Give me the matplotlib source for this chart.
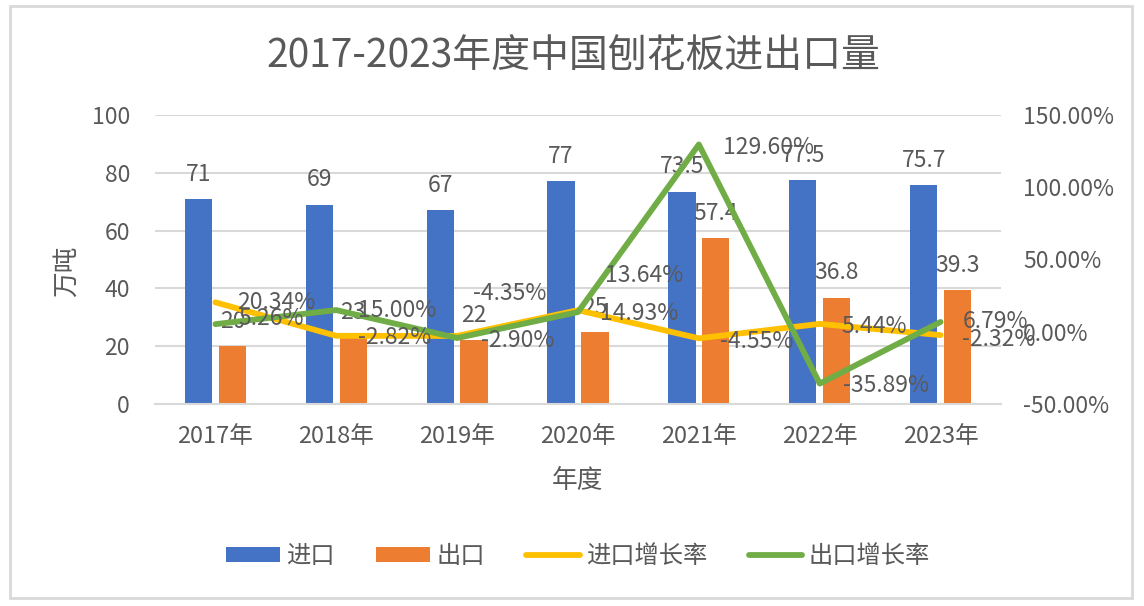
import matplotlib
matplotlib.use("Agg")
import matplotlib.pyplot as plt
from matplotlib.patches import Rectangle
from matplotlib.ticker import FuncFormatter, MultipleLocator

plt.rcParams['font.family'] = ['Noto Sans CJK SC', 'DejaVu Sans']

years = ['2017年', '2018年', '2019年', '2020年', '2021年', '2022年', '2023年']
imports = [71, 69, 67, 77, 73.5, 77.5, 75.7]
exports = [20, 23, 22, 25, 57.4, 36.8, 39.3]
import_growth = [20.34, -2.82, -2.90, 14.93, -4.55, 5.44, -2.32]
export_growth = [5.26, 15.00, -4.35, 13.64, 129.60, -35.89, 6.79]

# label offsets (pixels right, pixels up) relative to each line point
imp_lbl_off = [(22, 0), (22, -2), (24, -5), (22, -3), (21, -3), (22, -3), (21, -4)]
exp_lbl_off = [(23, 6), (22, 0), (16, 45), (27, 37), (24, -3), (23, -2), (22, 0)]

C_BLUE = '#4472C4'
C_ORANGE = '#ED7D31'
C_YELLOW = '#FFC000'
C_GREEN = '#70AD47'
TXT = '#595959'
GRID = '#D9D9D9'

W, H = 1144, 606
PX = 72 / 100  # points per pixel
fig = plt.figure(figsize=(W / 100, H / 100), dpi=100)

ax = fig.add_axes([155 / W, 1 - 404 / H, (1001 - 155) / W, (404 - 115) / H])
ax2 = ax.twinx()

x = list(range(len(years)))
bw = 0.225
off = 0.14
b1 = ax.bar([i - off for i in x], imports, width=bw, color=C_BLUE, label='进口', zorder=2)
b2 = ax.bar([i + off for i in x], exports, width=bw, color=C_ORANGE, label='出口', zorder=2)

FS = 16.5
for i, v in enumerate(imports):
    ax.annotate(f'{v:g}', (i - off, v), xytext=(0, 9.5), textcoords='offset points',
                ha='center', va='bottom', fontsize=FS, color=TXT)
for i, v in enumerate(exports):
    ax.annotate(f'{v:g}', (i + off, v), xytext=(0, 9.5), textcoords='offset points',
                ha='center', va='bottom', fontsize=FS, color=TXT)

ax.set_ylim(0, 100)
ax.set_xlim(-0.5, len(years) - 0.5)
ax.yaxis.set_major_locator(MultipleLocator(20))
ax.set_xticks(x)
ax.set_xticklabels(years)
ax.grid(axis='y', color=GRID, linewidth=1.5, zorder=0)
ax.set_axisbelow(True)
for s in ['top', 'right', 'left']:
    ax.spines[s].set_visible(False)
ax.spines['bottom'].set_color(GRID)
ax.spines['bottom'].set_linewidth(1.5)
ax.tick_params(axis='both', length=0, labelsize=FS, colors=TXT)
ax.tick_params(axis='y', pad=18)
ax.tick_params(axis='x', pad=15, labelsize=17)

ax.set_ylabel('万吨', fontsize=18.5, color=TXT)
ax.yaxis.set_label_coords((80 - 155) / (1001 - 155), 0.46)
ax.set_xlabel('年度', fontsize=18.5, color=TXT)
ax.xaxis.set_label_coords(0.5, -(468 - 404) / (404 - 115))

l1, = ax2.plot(x, import_growth, color=C_YELLOW, linewidth=4.2, label='进口增长率',
               solid_capstyle='round', solid_joinstyle='round', zorder=3)
l2, = ax2.plot(x, export_growth, color=C_GREEN, linewidth=4.2, label='出口增长率',
               solid_capstyle='round', solid_joinstyle='round', zorder=3)
for i, v in enumerate(import_growth):
    dx, dy = imp_lbl_off[i]
    ax2.annotate(f'{v:.2f}%', (i, v), xytext=(dx * PX, dy * PX), textcoords='offset points',
                 ha='left', va='center', fontsize=FS, color=TXT, zorder=5)
for i, v in enumerate(export_growth):
    dx, dy = exp_lbl_off[i]
    ax2.annotate(f'{v:.2f}%', (i, v), xytext=(dx * PX, dy * PX), textcoords='offset points',
                 ha='left', va='center', fontsize=FS, color=TXT, zorder=5)

ax2.set_ylim(-50, 150)
ax2.yaxis.set_major_locator(MultipleLocator(50))
ax2.yaxis.set_major_formatter(FuncFormatter(lambda v, p: f'{v:.2f}%'))
for s in ax2.spines.values():
    s.set_visible(False)
ax2.tick_params(axis='y', length=0, labelsize=FS, colors=TXT, pad=16)

fig.text(573 / W, 1 - 57 / H, '2017-2023年度中国刨花板进出口量', ha='center', va='center',
         fontsize=28, color=TXT)

leg = fig.legend([b1, b2, l1, l2], ['进口', '出口', '进口增长率', '出口增长率'],
                 loc='center', bbox_to_anchor=(578 / W, 1 - 556 / H), ncol=4,
                 frameon=False, fontsize=17.5, handlelength=2.22, handleheight=0.53,
                 handletextpad=0.25, columnspacing=1.7)
for t in leg.get_texts():
    t.set_color(TXT)

fig.patches.append(Rectangle((10 / W, 1 - 598 / H), (1132 - 10) / W, (598 - 6) / H,
                             transform=fig.transFigure, fill=False,
                             edgecolor=GRID, linewidth=2))

fig.savefig('out.png', dpi=100, facecolor='white')
